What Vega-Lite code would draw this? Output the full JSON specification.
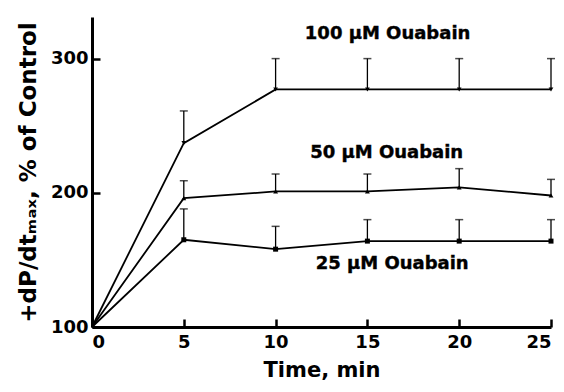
{
  "$schema": "https://vega.github.io/schema/vega-lite/v6.json",
  "width": 459,
  "height": 310,
  "autosize": "none",
  "padding": {"left": 92, "top": 17, "right": 13, "bottom": 65},
  "background": "white",
  "config": {
    "view": {"stroke": null},
    "font": "DejaVu Sans",
    "axis": {"grid": false, "domainColor": "black", "domainWidth": 3, "tickColor": "black", "tickWidth": 2.5, "tickSize": -8, "labelFont": "DejaVu Sans", "labelFontWeight": "bold", "labelColor": "black", "labelFontSize": 18, "titleFont": "DejaVu Sans", "titleFontWeight": "bold", "titleColor": "black"}
  },
  "datasets": {
    "pts": [
      {"series": "100", "t": 0, "v": 100, "hi": 100},
      {"series": "100", "t": 5, "v": 237, "hi": 261},
      {"series": "100", "t": 10, "v": 277, "hi": 300},
      {"series": "100", "t": 15, "v": 277, "hi": 300},
      {"series": "100", "t": 20, "v": 277, "hi": 300},
      {"series": "100", "t": 25, "v": 277, "hi": 300},
      {"series": "50", "t": 0, "v": 100, "hi": 100},
      {"series": "50", "t": 5, "v": 196, "hi": 209},
      {"series": "50", "t": 10, "v": 201, "hi": 214},
      {"series": "50", "t": 15, "v": 201, "hi": 214},
      {"series": "50", "t": 20, "v": 204, "hi": 218},
      {"series": "50", "t": 25, "v": 198, "hi": 210},
      {"series": "25", "t": 0, "v": 100, "hi": 100},
      {"series": "25", "t": 5, "v": 165, "hi": 188},
      {"series": "25", "t": 10, "v": 158, "hi": 175},
      {"series": "25", "t": 15, "v": 164, "hi": 180},
      {"series": "25", "t": 20, "v": 164, "hi": 180},
      {"series": "25", "t": 25, "v": 164, "hi": 180}
    ],
    "labels": [
      {"t": 16.1, "v": 318, "text": "100 µM Ouabain"},
      {"t": 16.05, "v": 230, "text": "50 µM Ouabain"},
      {"t": 16.35, "v": 147.3, "text": "25 µM Ouabain"}
    ]
  },
  "layer": [
    {
      "data": {"name": "pts"},
      "transform": [{"filter": "datum.t > 0"}],
      "mark": {"type": "rule", "color": "black", "strokeWidth": 1.3},
      "encoding": {
        "x": {"field": "t", "type": "quantitative", "scale": {"domain": [0, 25], "nice": false},
          "axis": {"values": [0, 5, 10, 15, 20, 25], "title": "Time, min", "titleFontSize": 21, "titlePadding": 8, "labelPadding": 14}},
        "y": {"field": "v", "type": "quantitative", "scale": {"domain": [100, 331], "nice": false, "zero": false},
          "axis": {"values": [100, 200, 300], "title": "+dP/dtₘₐₓ, % of Control", "titleFontSize": 23, "labelPadding": 12, "titlePadding": 10}},
        "y2": {"field": "hi"}
      }
    },
    {
      "data": {"name": "pts"},
      "transform": [{"filter": "datum.t > 0"}],
      "mark": {"type": "tick", "orient": "horizontal", "color": "black", "size": 8, "thickness": 1.5},
      "encoding": {
        "x": {"field": "t", "type": "quantitative"},
        "y": {"field": "hi", "type": "quantitative"}
      }
    },
    {
      "data": {"name": "pts"},
      "mark": {"type": "line", "color": "black", "strokeWidth": 1.8},
      "encoding": {
        "x": {"field": "t", "type": "quantitative"},
        "y": {"field": "v", "type": "quantitative"},
        "detail": {"field": "series"}
      }
    },
    {
      "data": {"name": "pts"},
      "transform": [{"filter": "datum.t > 0"}],
      "mark": {"type": "point", "filled": true, "color": "black", "opacity": 1},
      "encoding": {
        "x": {"field": "t", "type": "quantitative"},
        "y": {"field": "v", "type": "quantitative"},
        "shape": {"field": "series", "type": "nominal", "scale": {"domain": ["100", "50", "25"], "range": ["triangle-down", "triangle-up", "square"]}, "legend": null},
        "size": {"field": "series", "type": "nominal", "scale": {"domain": ["100", "50", "25"], "range": [22, 25, 40]}, "legend": null}
      }
    },
    {
      "data": {"name": "labels"},
      "mark": {"type": "text", "font": "DejaVu Sans", "fontWeight": "bold", "fontSize": 18, "color": "black", "stroke": "black", "strokeWidth": 0.4, "align": "center", "baseline": "middle"},
      "encoding": {
        "x": {"field": "t", "type": "quantitative"},
        "y": {"field": "v", "type": "quantitative"},
        "text": {"field": "text"}
      }
    }
  ]
}
